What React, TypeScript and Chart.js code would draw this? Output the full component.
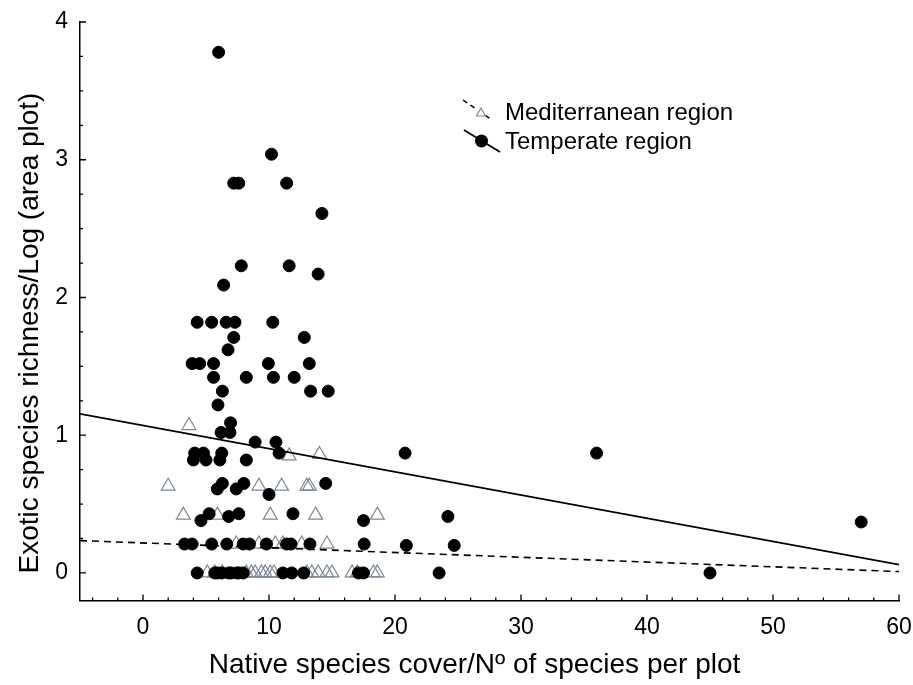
import React, { useEffect, useRef } from 'react';
import { Chart, registerables } from 'chart.js';

Chart.register(...registerables);

// Mediterranean region (open triangles)
const MED_X = [
  3.65, 11.6, 14.0,
  2.0, 9.2, 11.0, 13.0, 13.2,
  3.2, 5.9, 10.1, 13.7, 18.6,
  7.4, 9.2, 10.5, 11.1, 12.6, 14.6,
  5.1, 5.7, 6.3, 8.2, 8.6, 8.9, 9.4, 9.7, 10.1, 10.4, 13.0, 13.4, 13.9, 14.6, 15.0, 16.6, 17.0, 18.3, 18.6,
];
const MED_Y = [
  1.07, 0.85, 0.86,
  0.63, 0.63, 0.63, 0.63, 0.63,
  0.42, 0.42, 0.42, 0.42, 0.42,
  0.21, 0.21, 0.21, 0.21, 0.21, 0.21,
  0, 0, 0, 0, 0, 0, 0, 0, 0, 0, 0, 0, 0, 0, 0, 0, 0, 0, 0,
];

// Temperate region (filled circles)
const TEMP_X = [
  6.0, 10.2, 7.2, 7.6, 11.4, 14.2,
  7.8, 11.6, 13.9, 6.4,
  4.3, 5.45, 6.6, 7.3, 10.3,
  7.2, 12.8, 6.75,
  3.9, 4.5, 5.6, 9.95, 13.2,
  5.6, 8.2, 10.35, 12.0,
  6.3, 13.3, 14.7, 5.95, 6.95, 6.2, 6.9,
  8.9, 10.55,
  4.1, 4.8, 6.25, 10.8, 20.8, 36.0,
  4.0, 5.0, 6.1, 8.2,
  6.3, 8.0, 14.5, 5.9, 7.4, 10.0,
  5.25, 7.6, 11.9, 24.2, 6.8, 4.6, 17.5, 57.0,
  3.3, 3.9, 5.45, 6.65, 7.95, 8.45, 9.8, 11.4, 11.75, 13.25, 17.55, 20.9, 24.7,
  4.3, 5.7, 5.9, 6.25, 6.8, 7.0, 7.45, 7.6, 7.95, 11.1, 11.8, 12.75, 17.1, 17.5, 23.5, 45.0,
];
const TEMP_Y = [
  3.78, 3.04, 2.83, 2.83, 2.83, 2.61,
  2.23, 2.23, 2.17, 2.09,
  1.82, 1.82, 1.82, 1.82, 1.82,
  1.71, 1.71, 1.62,
  1.52, 1.52, 1.52, 1.52, 1.52,
  1.42, 1.42, 1.42, 1.42,
  1.32, 1.32, 1.32, 1.22, 1.09, 1.02, 1.02,
  0.95, 0.95,
  0.87, 0.87, 0.87, 0.87, 0.87, 0.87,
  0.82, 0.82, 0.82, 0.82,
  0.65, 0.65, 0.65, 0.61, 0.61, 0.57,
  0.43, 0.43, 0.43, 0.41, 0.41, 0.38, 0.38, 0.37,
  0.21, 0.21, 0.21, 0.21, 0.21, 0.21, 0.21, 0.21, 0.21, 0.21, 0.21, 0.2, 0.2,
  0, 0, 0, 0, 0, 0, 0, 0, 0, 0, 0, 0, 0, 0, 0, 0,
];

// Regression lines
const MED_FIT_X = [-5, 60];
const MED_FIT_Y = [0.235, 0.01];
const TEMP_FIT_X = [-5, 60];
const TEMP_FIT_Y = [1.155, 0.06];

const X_TICKS = [0, 10, 20, 30, 40, 50, 60];
const X_MINOR_TICKS = [-4, -2, 2, 4, 6, 8, 12, 14, 16, 18, 22, 24, 26, 28, 32, 34, 36, 38, 42, 44, 46, 48, 52, 54, 56, 58];
const Y_TICKS = [0, 1, 2, 3, 4];
const Y_MINOR_TICKS = [0.25, 0.5, 0.75, 1.25, 1.5, 1.75, 2.25, 2.5, 2.75, 3.25, 3.5, 3.75];

const LEGEND_LABELS = ['Mediterranean region', 'Temperate region'];
const X_TITLE = 'Native species cover/Nº of species per plot';
const Y_TITLE = 'Exotic species richness/Log (area plot)';

const FONT = '"Liberation Sans", Arial, sans-serif';
const TRI_COLOR = '#7b8896';

const zip = (xs: number[], ys: number[]) => xs.map((x, i) => ({ x, y: ys[i] }));

const axisTicksPlugin = {
  id: 'axisTicks',
  afterDraw(chart: any) {
    const { ctx, scales } = chart;
    const xs = scales.x;
    const ys = scales.y;
    const bottom = ys.getPixelForValue(-0.2);
    const left = xs.getPixelForValue(-5);
    ctx.save();
    ctx.strokeStyle = '#000';
    ctx.lineWidth = 1.3;
    ctx.beginPath();
    X_TICKS.forEach((v) => {
      const px = xs.getPixelForValue(v);
      ctx.moveTo(px, bottom);
      ctx.lineTo(px, bottom - 6);
    });
    X_MINOR_TICKS.forEach((v) => {
      const px = xs.getPixelForValue(v);
      ctx.moveTo(px, bottom);
      ctx.lineTo(px, bottom - 3);
    });
    Y_TICKS.forEach((v) => {
      const py = ys.getPixelForValue(v);
      ctx.moveTo(left, py);
      ctx.lineTo(left + 6, py);
    });
    Y_MINOR_TICKS.forEach((v) => {
      const py = ys.getPixelForValue(v);
      ctx.moveTo(left, py);
      ctx.lineTo(left + 3, py);
    });
    ctx.stroke();

    // Axis titles
    ctx.fillStyle = '#000';
    ctx.font = `28px ${FONT}`;
    ctx.textAlign = 'center';
    ctx.textBaseline = 'middle';
    ctx.fillText(X_TITLE, 474.5, 665);
    ctx.translate(30, 333);
    ctx.rotate(-Math.PI / 2);
    ctx.fillText(Y_TITLE, 0, 0);
    ctx.restore();
  },
};

const legendPlugin = {
  id: 'insideLegend',
  afterDatasetsDraw(chart: any) {
    const { ctx } = chart;
    ctx.save();
    // Mediterranean entry
    ctx.strokeStyle = '#000';
    ctx.lineWidth = 1.5;
    ctx.setLineDash([5, 4]);
    ctx.beginPath();
    ctx.moveTo(463, 100);
    ctx.lineTo(492, 120);
    ctx.stroke();
    ctx.setLineDash([]);
    ctx.fillStyle = '#fff';
    ctx.beginPath();
    ctx.arc(481, 113, 5, 0, Math.PI * 2);
    ctx.fill();
    ctx.strokeStyle = TRI_COLOR;
    ctx.lineWidth = 1.2;
    ctx.beginPath();
    ctx.moveTo(481, 108);
    ctx.lineTo(485.5, 116);
    ctx.lineTo(476.5, 116);
    ctx.closePath();
    ctx.stroke();
    // Temperate entry
    ctx.strokeStyle = '#000';
    ctx.lineWidth = 1.8;
    ctx.beginPath();
    ctx.moveTo(464, 130);
    ctx.lineTo(500, 152);
    ctx.stroke();
    ctx.fillStyle = '#000';
    ctx.beginPath();
    ctx.arc(481.5, 141, 6.5, 0, Math.PI * 2);
    ctx.fill();
    // Labels
    ctx.fillStyle = '#000';
    ctx.font = `24px ${FONT}`;
    ctx.textBaseline = 'middle';
    ctx.textAlign = 'left';
    ctx.fillText(LEGEND_LABELS[0], 505, 113);
    ctx.fillText(LEGEND_LABELS[1], 505, 142);
    ctx.restore();
  },
};

export default function App() {
  const canvasRef = useRef<HTMLCanvasElement | null>(null);

  useEffect(() => {
    const canvas = canvasRef.current;
    if (!canvas) return;
    const chart = new Chart(canvas, {
      type: 'scatter',
      data: {
        datasets: [
          {
            label: LEGEND_LABELS[1],
            data: zip(TEMP_X, TEMP_Y),
            pointStyle: 'circle',
            pointRadius: 6,
            pointBackgroundColor: '#000',
            pointBorderColor: '#000',
            pointBorderWidth: 1,
            order: 1,
          },
          {
            type: 'line',
            label: 'Temperate fit',
            data: zip(TEMP_FIT_X, TEMP_FIT_Y),
            borderColor: '#000',
            borderWidth: 1.6,
            pointRadius: 0,
            fill: false,
            order: 2,
          },
          {
            type: 'line',
            label: 'Mediterranean fit',
            data: zip(MED_FIT_X, MED_FIT_Y),
            borderColor: '#000',
            borderWidth: 1.6,
            borderDash: [7, 5],
            pointRadius: 0,
            fill: false,
            order: 3,
          },
          {
            label: LEGEND_LABELS[0],
            data: zip(MED_X, MED_Y),
            pointStyle: 'triangle',
            pointRadius: 8,
            pointBackgroundColor: 'rgba(255,255,255,0)',
            pointBorderColor: TRI_COLOR,
            pointBorderWidth: 1.2,
            order: 4,
          },
        ],
      } as any,
      options: {
        animation: false,
        responsive: false,
        devicePixelRatio: 1,
        layout: { padding: { left: 0, right: 14, top: 22, bottom: 0 } },
        plugins: {
          legend: { display: false },
          tooltip: { enabled: false },
        },
        scales: {
          x: {
            type: 'linear',
            min: -5,
            max: 60,
            afterBuildTicks: (axis: any) => {
              axis.ticks = X_TICKS.map((value) => ({ value }));
            },
            afterFit: (axis: any) => {
              axis.height = 84.5;
              axis.paddingLeft = 0;
              axis.paddingRight = 0;
            },
            grid: { display: false, drawTicks: false },
            border: { display: true, color: '#000', width: 1.5 },
            ticks: {
              color: '#000',
              font: { family: FONT, size: 23 },
              padding: 13,
              maxRotation: 0,
            },
            title: { display: false },
          },
          y: {
            type: 'linear',
            min: -0.2,
            max: 4,
            afterBuildTicks: (axis: any) => {
              axis.ticks = Y_TICKS.map((value) => ({ value }));
            },
            afterFit: (axis: any) => {
              axis.width = 80;
              axis.paddingTop = 0;
              axis.paddingBottom = 0;
            },
            grid: { display: false, drawTicks: false },
            border: { display: true, color: '#000', width: 1.5 },
            ticks: {
              color: '#000',
              font: { family: FONT, size: 23 },
              padding: 12,
            },
            title: { display: false },
          },
        },
      } as any,
      plugins: [axisTicksPlugin, legendPlugin],
    });
    return () => chart.destroy();
  }, []);

  return (
    <div style={{ position: 'fixed', left: 0, top: 0, width: 913, height: 685, background: '#fff' }}>
      <canvas ref={canvasRef} width={913} height={685} style={{ display: 'block' }} />
    </div>
  );
}
